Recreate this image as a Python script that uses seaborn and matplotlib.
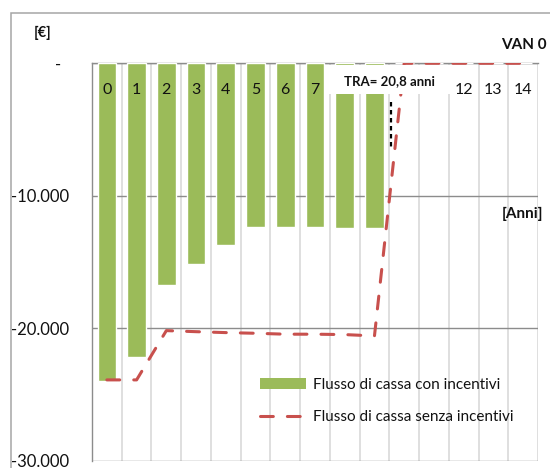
import matplotlib
matplotlib.use("Agg")
import matplotlib.pyplot as plt
from matplotlib.patches import Rectangle, Patch
from matplotlib.lines import Line2D
import numpy as np
import pandas as pd
import seaborn as sns

# Anni del periodo di analisi
anni = [str(i) for i in range(15)]
# Flusso di cassa cumulato [€]
con_incentivi = [-23950, -22140, -16730, -15170, -13710, -12330, -12330, -12330,
                 -12450, -12450, 0, 0, 0, 0, 0]
senza_incentivi = [-23900, -23900, -20180, -20260, -20330, -20380, -20450, -20450,
                   -20480, -20580, 0, 0, 0, 0, 0]
y_ticks = [0, -10000, -20000, -30000]
y_tick_labels = ["-  ", "-10.000", "-20.000", "-30.000"]

verde = "#9BBB59"
rosso = "#C8504D"
grigio = "#8C8C8C"
grigio_chiaro = "#D9D9D9"
testo = "#111111"

sns.set_style("white")
plt.rcParams["font.family"] = ["Lato", "DejaVu Sans"]

W, H = 550, 468
fig = plt.figure(figsize=(W / 100, H / 100), dpi=100)
ax = fig.add_axes([92 / W, 1 - 460.7 / H, (538 - 92) / W, (460.7 - 63.3) / H])

df = pd.DataFrame({"anno": anni, "flusso": con_incentivi})
sns.barplot(data=df, x="anno", y="flusso", color=verde, saturation=1,
            width=0.63, ax=ax, zorder=3)

pos = np.arange(len(anni))
sns.lineplot(x=pos, y=senza_incentivi, ax=ax, color=rosso, linewidth=2.2,
             linestyle=(0, (4.2, 4.6)), dash_capstyle="round", zorder=5,
             sort=False)

ax.set_xlim(-0.5, len(anni) - 0.5)
ax.set_ylim(-30000, 0)
ax.set_xlabel("")
ax.set_ylabel("")

# y axis
ax.set_yticks(y_ticks)
ax.set_yticklabels(y_tick_labels, fontsize=12, color=testo)
ax.tick_params(axis="y", direction="out", length=4.3, width=1, color=grigio, pad=12)
ax.grid(True, axis="y", color=grigio, linewidth=1, zorder=1)

# category boundaries as vertical grid
ax.set_xticks([])
ax.set_xticks(np.arange(len(anni) + 1) - 0.5, minor=True)
ax.tick_params(axis="x", which="minor", length=0)
ax.grid(True, axis="x", which="minor", color=grigio_chiaro, linewidth=1.2, zorder=1)
ax.set_axisbelow(True)

for side in ["right", "bottom"]:
    ax.spines[side].set_visible(False)
ax.spines["left"].set_color(grigio)
ax.spines["left"].set_linewidth(1)
ax.spines["top"].set_color(grigio)
ax.spines["top"].set_linewidth(1)

# payback note: a white box over the zero axis, spanning years 8-11
box_x0, box_x1 = 7.44, 11.61
ax.add_patch(Rectangle((box_x0, -2330), box_x1 - box_x0, 2200, facecolor="white",
                       edgecolor="none", zorder=6))
ax.text(9.52, -1340, "TRA= 20,8 anni", ha="center", va="center", fontsize=9.5,
        fontweight="bold", color=testo, zorder=7)
ax.plot([9.56, 9.56], [-2920, -6540], color="black", linewidth=1.6,
        linestyle=(0, (2, 1.6)), zorder=7)

# year labels along the zero axis (those under the payback note stay covered)
for i, a in enumerate(anni):
    if box_x0 < i < box_x1:
        continue
    ax.text(i, -2000, a, ha="center", va="center", fontsize=11.5, color=testo, zorder=4)

# legend
handles = [Patch(facecolor=verde, edgecolor="none"),
           Line2D([0], [0], color=rosso, linewidth=2.2, linestyle=(0, (4.2, 4.6)),
                  dash_capstyle="round")]
labels = ["Flusso di cassa con incentivi", "Flusso di cassa senza incentivi"]
fig.legend(handles, labels, loc="upper left", bbox_to_anchor=(260 / W, 1 - 378 / H),
           frameon=False, fontsize=11, handlelength=3.0, handleheight=0.7,
           handletextpad=0.45, labelspacing=1.2, borderpad=0, borderaxespad=0,
           labelcolor=testo)

# titles and axis names
fig.text(43 / W, 1 - 33 / H, "[€]", ha="center", va="center", fontsize=10.5,
         fontweight="bold", color=testo)
fig.text(547 / W, 1 - 45 / H, "VAN 0", ha="right", va="center", fontsize=11,
         fontweight="bold", color=testo)
fig.text(543 / W, 1 - 214 / H, "[Anni]", ha="right", va="center", fontsize=11,
         fontweight="bold", color=testo)

# chart area border
fig.patches.append(Rectangle((11 / W, -0.1), 1.2, 1 - 13 / H + 0.1,
                             transform=fig.transFigure, facecolor="none",
                             edgecolor="#A6A6A6", linewidth=1.1))

fig.savefig("out.png", dpi=100)
